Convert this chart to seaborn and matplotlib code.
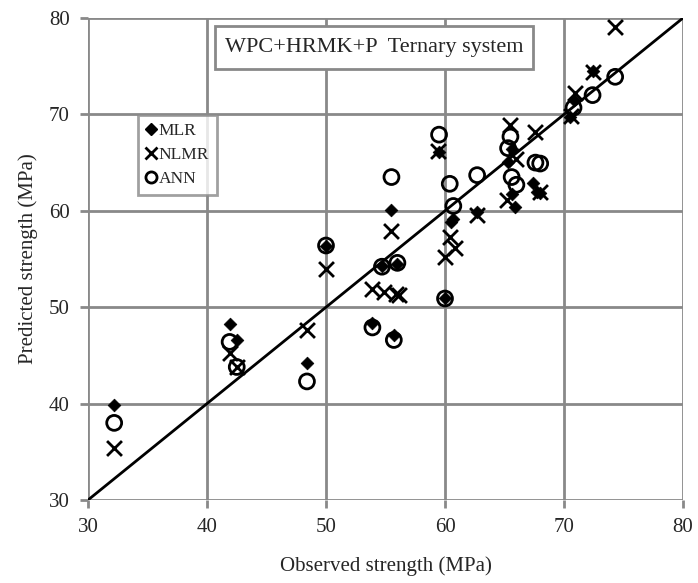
import matplotlib
matplotlib.use("Agg")
import matplotlib.pyplot as plt
import seaborn as sns
import pandas as pd
from matplotlib.lines import Line2D
from matplotlib.patches import Rectangle

# ---- data ----
obs_mlr = [32.2, 41.9, 42.5, 48.4, 50.0, 53.9, 54.7, 55.5, 55.7, 56.0, 59.5, 60.0,
           60.5, 60.7, 62.7, 65.3, 65.6, 65.6, 65.9, 67.4, 67.7, 68.0, 70.5, 70.8, 72.4]
pred_mlr = [39.9, 48.3, 46.6, 44.2, 56.3, 48.4, 54.3, 60.1, 47.1, 54.5, 66.1, 51.0,
            58.8, 59.1, 59.9, 65.1, 66.4, 61.7, 60.4, 62.9, 62.0, 61.8, 69.7, 71.5, 74.5]

obs_nlmr = [32.2, 41.9, 42.5, 48.4, 50.0, 53.9, 54.9, 55.5, 55.9, 56.1, 59.4, 60.0,
            60.4, 60.8, 62.7, 65.2, 65.5, 66.0, 67.6, 68.0, 70.6, 70.9, 72.4, 74.3]
pred_nlmr = [35.4, 45.2, 43.8, 47.6, 54.0, 51.9, 51.6, 57.9, 51.4, 51.3, 66.2, 55.2,
             57.3, 56.1, 59.6, 61.1, 68.9, 65.4, 68.2, 61.9, 69.8, 72.2, 74.4, 79.1]

obs_ann = [32.2, 41.9, 42.5, 48.4, 50.0, 53.9, 54.7, 55.5, 55.7, 56.0, 59.5, 60.0,
           60.4, 60.7, 62.7, 65.3, 65.5, 65.6, 66.0, 67.6, 68.0, 70.8, 72.4, 74.3]
pred_ann = [38.0, 46.4, 43.8, 42.3, 56.4, 47.9, 54.2, 63.5, 46.6, 54.6, 67.9, 50.9,
            62.8, 60.5, 63.7, 66.5, 67.7, 63.5, 62.7, 65.0, 64.9, 70.7, 72.0, 73.9]

axis_ticks = [30, 40, 50, 60, 70, 80]
series_names = ["MLR", "NLMR", "ANN"]
title_text = "WPC+HRMK+P  Ternary system"

df = pd.concat([
    pd.DataFrame({"obs": obs_mlr, "pred": pred_mlr, "model": "MLR"}),
    pd.DataFrame({"obs": obs_nlmr, "pred": pred_nlmr, "model": "NLMR"}),
    pd.DataFrame({"obs": obs_ann, "pred": pred_ann, "model": "ANN"}),
])

sns.set_theme(style="white")
plt.rcParams["font.family"] = ["Liberation Serif", "DejaVu Serif"]

fig = plt.figure(figsize=(6.98, 5.83), dpi=100)
ax = fig.add_axes([88 / 698, 83 / 583, 595 / 698, 482 / 583])

grid_c = "#898989"
for v in axis_ticks:
    ax.axvline(v, color=grid_c, lw=2.0, zorder=0)
    ax.axhline(v, color=grid_c, lw=2.0, zorder=0)

ax.plot([30, 80], [30, 80], color="black", lw=2.0, zorder=1)

styles = {
    "MLR": dict(marker="D", s=42, color="black", edgecolor="black", linewidth=0.5),
    "NLMR": dict(marker="x", s=115, color="black", linewidth=2.0),
    "ANN": dict(marker="o", s=115, facecolor="none", edgecolor="black", linewidth=2.0),
}
for name in series_names:
    sub = df[df["model"] == name]
    sns.scatterplot(data=sub, x="obs", y="pred", ax=ax, zorder=3, legend=False,
                    **styles[name])

ax.set_xlim(30, 80)
ax.set_ylim(30, 80)
ax.set_xticks(axis_ticks)
ax.set_yticks(axis_ticks)
for sp in ax.spines.values():
    sp.set_visible(False)
ax.tick_params(axis="both", which="both", direction="out", length=6, width=2,
               color=grid_c, labelsize=15, pad=7, bottom=True, left=True)
ax.set_xlabel("Observed strength (MPa)", fontsize=15, labelpad=14)
ax.set_ylabel("Predicted strength (MPa)", fontsize=15, labelpad=8)

handles = [
    Line2D([], [], marker="D", color="black", ls="none", markersize=6),
    Line2D([], [], marker="x", color="black", ls="none", markersize=9, markeredgewidth=2),
    Line2D([], [], marker="o", markerfacecolor="none", markeredgecolor="black",
           ls="none", markersize=8, markeredgewidth=2),
]
leg = ax.legend(handles, series_names, loc="lower left",
                bbox_to_anchor=((138 - 88) / 595, (500 - 195) / 482),
                frameon=True, fancybox=False, fontsize=12.5, handlelength=0.6,
                handletextpad=0.15, borderpad=0.45, labelspacing=0.45,
                borderaxespad=0)
leg.get_frame().set_edgecolor(grid_c)
leg.get_frame().set_linewidth(2)
leg.set_zorder(5)

ax.add_patch(Rectangle((40.7, 74.7), 26.7, 4.5, facecolor="white",
                       edgecolor=grid_c, linewidth=2, zorder=5))
ax.text(54.05, 76.95, title_text, fontsize=16, ha="center", va="center", zorder=6)

fig.savefig("out.png", dpi=100)
